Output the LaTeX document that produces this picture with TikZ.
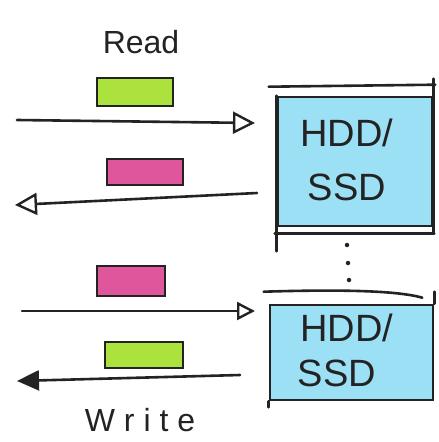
\documentclass[tikz,border=0pt]{standalone}
\usepackage{fontspec}
\setmainfont{Liberation Sans}
\usetikzlibrary{arrows.meta}
\definecolor{hdd}{RGB}{155,224,244}
\definecolor{grn}{RGB}{172,226,62}
\definecolor{pnk}{RGB}{224,86,156}
\definecolor{ink}{RGB}{35,35,35}
\begin{document}
\begin{tikzpicture}[x=1pt,y=-1pt,
  inkline/.style={draw=ink,line width=2.6pt,line cap=round},
  bar/.style={inkline,inner sep=0pt},
  disk/.style={inkline,fill=hdd,inner sep=0pt},
  lbl/.style={text=ink,font=\fontsize{38}{40}\selectfont,inner sep=0pt},
  title/.style={text=ink,font=\fontsize{32}{34}\selectfont,inner sep=0pt},
  rarrow/.style={inkline,-{Triangle[open,length=22pt,width=22pt,line width=2.4pt]}},
  sarrow/.style={inkline,-{Triangle[open,length=18pt,width=18pt,line width=2.4pt]}},
  larrow/.style={inkline,-{Triangle[open,length=22pt,width=22pt,line width=2.4pt]}},
  farrow/.style={inkline,-{Triangle[length=22pt,width=20pt]}},
  dot/.style={circle,fill=ink,inner sep=0pt,minimum size=4.5pt}
]
\useasboundingbox (0,0) rectangle (439,442);

% titles
\node[title] (read) at (141,42) {Read};
\node[title] (write) at (140,420) {W r i t e};

% disks
\node[disk,minimum width=154pt,minimum height=129pt] (box1) at (355,161.5) {};
\node[lbl] (t1a) at (347,133) {HDD/};
\node[lbl] (t1b) at (347,187) {SSD};
\draw[inkline] ([xshift=-8pt,yshift=9pt]box1.north west) -- ([xshift=2pt,yshift=11pt]box1.north east);
\draw[inkline] ([xshift=-2pt,yshift=-6pt]box1.south west) -- ([xshift=1pt,yshift=-6pt]box1.south east);
\draw[inkline] (box1.north west) -- ([yshift=-24pt]box1.south west);
\draw[inkline] ([yshift=17pt]box1.north east) -- ([yshift=-6pt]box1.south east);

\node[disk,minimum width=163pt,minimum height=95pt] (box2) at (351.5,352.5) {};
\node[lbl] (t2a) at (347,328) {HDD/};
\node[lbl] (t2b) at (337,373) {SSD};
\draw[inkline] ([xshift=-5pt,yshift=12pt]box2.north west) .. controls ([xshift=60pt,yshift=14pt]box2.north west) and ([xshift=-40pt,yshift=14pt]box2.north east) .. ([xshift=-12pt,yshift=6pt]box2.north east);
\draw[inkline] ([yshift=12pt]box2.north east) -- (box2.north east);
\draw[inkline] (box2.south west) -- ([yshift=-6pt]box2.south west);

% dots
\node[dot] (d1) at (347,245) {};
\node[dot] (d2) at (348,263) {};
\node[dot] (d3) at (349,280) {};

% bars
\node[bar,fill=grn,minimum width=76pt,minimum height=28pt] (g1) at (135,92) {};
\node[bar,fill=pnk,minimum width=76pt,minimum height=26pt] (p1) at (145,172) {};
\node[bar,fill=pnk,minimum width=68pt,minimum height=30pt] (p2) at (131,281) {};
\node[bar,fill=grn,minimum width=78pt,minimum height=26pt] (g2) at (144,355) {};

% arrows
\coordinate (a1s) at (17,120);
\coordinate (a1e) at (255,123);
\coordinate (a2s) at (257,193);
\coordinate (a2e) at (15,205);
\coordinate (a3s) at (22,311);
\coordinate (a3e) at (255,311);
\coordinate (a4s) at (240,375);
\coordinate (a4e) at (17,381);
\draw[rarrow] (a1s) -- (a1e);
\draw[larrow] (a2s) -- (a2e);
\draw[sarrow] (a3s) -- (a3e);
\draw[farrow] (a4s) -- (a4e);
\end{tikzpicture}
\end{document}
